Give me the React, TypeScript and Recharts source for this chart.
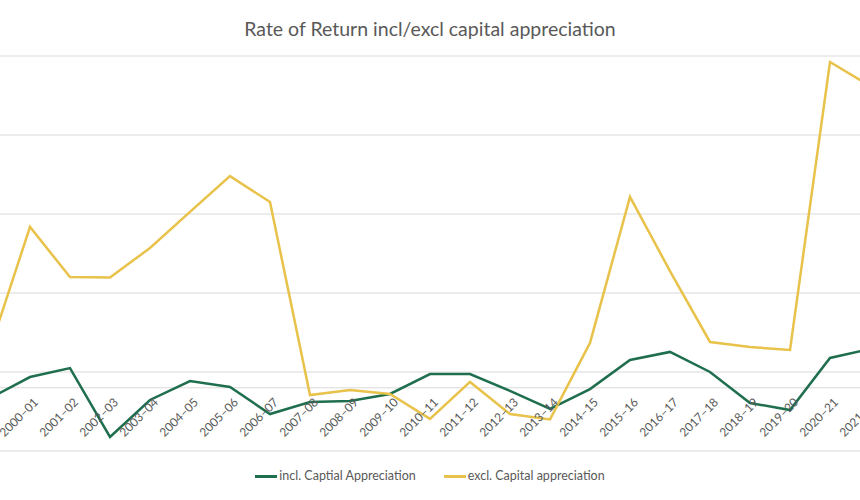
import React from "react";
import { LineChart, Line, XAxis, YAxis, CartesianGrid, ReferenceLine } from "recharts";

const categories = [
  "1999–00", "2000–01", "2001–02", "2002–03", "2003–04", "2004–05", "2005–06", "2006–07",
  "2007–08", "2008–09", "2009–10", "2010–11", "2011–12", "2012–13", "2013–14", "2014–15",
  "2015–16", "2016–17", "2017–18", "2018–19", "2019–20", "2020–21", "2021–22",
];

const inclCapital = [
  -0.65, 0.68, 1.25, -3.11, -0.77, 0.43, 0.05, -1.66, -0.9, -0.84, -0.39, 0.87, 0.87,
  -0.2, -1.34, -0.08, 1.76, 2.27, 1.0, -0.96, -1.41, 1.89, 2.46,
];

const exclCapital = [
  2.46, 10.18, 7.01, 6.98, 8.85, 11.13, 13.4, 11.76, -0.46, -0.14, -0.39, -1.97, 0.37,
  -1.66, -2.0, 2.84, 12.08, 7.39, 2.9, 2.58, 2.39, 20.62, 19.1,
];

const yTicks = [-4, 1, 6, 11, 16, 21];

const seriesNames = ["incl. Captial Appreciation", "excl. Capital appreciation"];
const seriesColors = ["#1f6e4e", "#e8c24a"];

const data = categories.map((c, i) => ({
  cat: c,
  incl: inclCapital[i],
  excl: exclCapital[i],
}));

const FONT = "Lato, 'Open Sans', sans-serif";

const CatTick = (props: any) => {
  const { x, payload } = props;
  return (
    <g transform={`translate(${x + 3}, 397) rotate(-45)`}>
      <text x={0} y={0} textAnchor="end" dy="0.71em" fill="#595959" fontSize={12} fontFamily={FONT}>
        {payload.value}
      </text>
    </g>
  );
};

export default function App() {
  return (
    <div
      style={{
        position: "fixed",
        left: 0,
        top: 0,
        width: 860,
        height: 500,
        overflow: "hidden",
        background: "#ffffff",
        fontFamily: FONT,
      }}
    >
      <div
        style={{
          position: "absolute",
          left: 0,
          top: 16,
          width: 860,
          textAlign: "center",
          fontSize: 19.5,
          color: "#595959",
          lineHeight: "26px",
        }}
      >
        Rate of Return incl/excl capital appreciation
      </div>
      <div style={{ position: "absolute", left: -20, top: 0 }}>
        <LineChart
          width={900}
          height={500}
          data={data}
          margin={{ top: 56, right: 10, bottom: 19, left: 10 }}
        >
          <CartesianGrid vertical={false} stroke="#d9d9d9" strokeWidth={1} />
          <XAxis
            dataKey="cat"
            height={30}
            axisLine={false}
            tickLine={false}
            interval={0}
            tick={CatTick}
          />
          <YAxis hide domain={[-4, 21]} ticks={yTicks} type="number" />
          <ReferenceLine y={0} stroke="#d9d9d9" strokeWidth={1} />
          <Line
            type="linear"
            dataKey="incl"
            name={seriesNames[0]}
            stroke={seriesColors[0]}
            strokeWidth={2.5}
            dot={false}
            isAnimationActive={false}
          />
          <Line
            type="linear"
            dataKey="excl"
            name={seriesNames[1]}
            stroke={seriesColors[1]}
            strokeWidth={2.5}
            dot={false}
            isAnimationActive={false}
          />
        </LineChart>
      </div>
      <div
        style={{
          position: "absolute",
          left: 0,
          top: 468,
          width: 860,
          display: "flex",
          justifyContent: "center",
          alignItems: "center",
          fontSize: 12.5,
          color: "#595959",
          lineHeight: "16px",
        }}
      >
        {seriesNames.map((n, i) => (
          <div
            key={n}
            style={{ display: "flex", alignItems: "center", marginLeft: i === 0 ? 0 : 28 }}
          >
            <span
              style={{
                display: "inline-block",
                width: 22,
                height: 3,
                background: seriesColors[i],
                marginRight: 2,
              }}
            />
            <span>{n}</span>
          </div>
        ))}
      </div>
    </div>
  );
}
